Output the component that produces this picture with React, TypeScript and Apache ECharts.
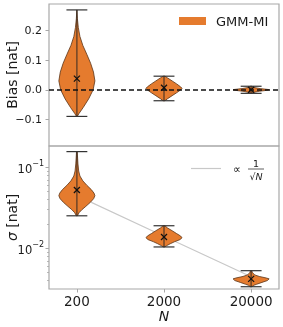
import React, { useEffect, useRef } from 'react';
import * as echarts from 'echarts';

// ---------- data ----------
const categories = ['200', '2000', '20000'];
const positions = [0, 1, 2];

// Bias panel (top): violin profiles (value, relative half-width)
const biasProfileY = [
  [0.27, 0.24, 0.21, 0.18, 0.15, 0.12, 0.09, 0.06, 0.03, 0.0, -0.03, -0.06, -0.08, -0.09],
  [0.046, 0.04, 0.03, 0.02, 0.01, 0.005, 0.0, -0.01, -0.02, -0.03, -0.037],
  [0.012, 0.008, 0.004, 0.001, 0.0, -0.002, -0.005, -0.009, -0.012],
];
const biasProfileW = [
  [0.0, 0.03, 0.08, 0.17, 0.33, 0.55, 0.76, 0.92, 1.0, 0.9, 0.66, 0.35, 0.12, 0.02],
  [0.05, 0.2, 0.45, 0.7, 0.92, 1.0, 0.93, 0.7, 0.45, 0.2, 0.05],
  [0.03, 0.15, 0.5, 0.95, 1.0, 0.85, 0.45, 0.12, 0.03],
];
const biasMin = [-0.09, -0.037, -0.012];
const biasMax = [0.27, 0.046, 0.012];
const biasMean = [0.038, 0.007, 0.0];
const biasTicks = [-0.1, 0.0, 0.1, 0.2];

// Sigma panel (bottom, log scale)
const sigmaProfileY = [
  [0.156, 0.13, 0.11, 0.09, 0.078, 0.068, 0.06, 0.053, 0.048, 0.0446, 0.041, 0.037, 0.033, 0.03, 0.0275, 0.0252],
  [0.019, 0.0178, 0.0165, 0.0152, 0.0142, 0.0135, 0.0128, 0.0121, 0.0114, 0.0108, 0.0104],
  [0.0053, 0.005, 0.0047, 0.0045, 0.0043, 0.0042, 0.004, 0.0038, 0.0036, 0.0035, 0.00336],
];
const sigmaProfileW = [
  [0.02, 0.04, 0.06, 0.1, 0.17, 0.33, 0.55, 0.8, 0.95, 1.0, 0.93, 0.75, 0.5, 0.28, 0.12, 0.03],
  [0.05, 0.2, 0.45, 0.7, 0.92, 1.0, 0.88, 0.6, 0.35, 0.15, 0.04],
  [0.03, 0.08, 0.2, 0.45, 0.85, 1.0, 0.9, 0.6, 0.3, 0.15, 0.04],
];
const sigmaMin = [0.0252, 0.0104, 0.00336];
const sigmaMax = [0.156, 0.019, 0.0053];
const sigmaMean = [0.0525, 0.0138, 0.0042];
const sqrtRef = [0.0447, 0.0141, 0.00447];
const sigmaMajorTicks = [0.01, 0.1];
const sigmaMinorTicks = [0.004, 0.005, 0.006, 0.007, 0.008, 0.009, 0.02, 0.03, 0.04, 0.05, 0.06, 0.07, 0.08, 0.09];

// ---------- styles ----------
const HALF = 0.207;
const CAP = 0.12;
const ORANGE = '#E57B2E';
const FRAME = '#a8a8a8';
const TEXT = '#1a1a1a';
const FONT = 'DejaVu Sans';

const ident = (v: number) => v;
const lg = (v: number) => Math.log10(v);

function makeViolin(
  profY: number[][], profW: number[][], mins: number[], maxs: number[], means: number[], tf: (v: number) => number
) {
  return (params: any, api: any) => {
    const i = params.dataIndex;
    const xc = positions[i];
    const right = profY[i].map((v, k) => api.coord([xc + profW[i][k] * HALF, tf(v)]));
    const left = profY[i].map((v, k) => api.coord([xc - profW[i][k] * HALF, tf(v)])).reverse();
    const top = api.coord([xc, tf(maxs[i])]);
    const bot = api.coord([xc, tf(mins[i])]);
    const capL = api.coord([xc - CAP, tf(maxs[i])]);
    const capR = api.coord([xc + CAP, tf(maxs[i])]);
    const capL2 = api.coord([xc - CAP, tf(mins[i])]);
    const capR2 = api.coord([xc + CAP, tf(mins[i])]);
    const m = api.coord([xc, tf(means[i])]);
    const s = 3;
    return {
      type: 'group',
      children: [
        {
          type: 'polygon',
          shape: { points: right.concat(left) },
          style: { fill: ORANGE, stroke: '#5b3416', lineWidth: 0.8 },
        },
        {
          type: 'line',
          shape: { x1: top[0], y1: top[1], x2: bot[0], y2: bot[1] },
          style: { stroke: '#222', lineWidth: 1.4, opacity: 0.65 },
        },
        {
          type: 'line',
          shape: { x1: capL[0], y1: capL[1], x2: capR[0], y2: capR[1] },
          style: { stroke: '#333', lineWidth: 1.2 },
        },
        {
          type: 'line',
          shape: { x1: capL2[0], y1: capL2[1], x2: capR2[0], y2: capR2[1] },
          style: { stroke: '#333', lineWidth: 1.2 },
        },
        {
          type: 'line',
          shape: { x1: m[0] - s, y1: m[1] - s, x2: m[0] + s, y2: m[1] + s },
          style: { stroke: '#111', lineWidth: 1.2 },
        },
        {
          type: 'line',
          shape: { x1: m[0] - s, y1: m[1] + s, x2: m[0] + s, y2: m[1] - s },
          style: { stroke: '#111', lineWidth: 1.2 },
        },
      ],
    };
  };
}

export default function App() {
  const ref = useRef<HTMLDivElement>(null);
  useEffect(() => {
    if (!ref.current) return;
    const chart = echarts.init(ref.current, undefined, { renderer: 'svg' });
    const xMin = -0.32;
    const xMax = 2.32;
    const gridBase = {
      left: 49, right: 4, show: true, borderColor: FRAME, borderWidth: 1.2,
      backgroundColor: 'transparent', containLabel: false, outerBoundsMode: 'none',
    };
    const option: any = {
      animation: false,
      textStyle: { fontFamily: FONT },
      grid: [
        { ...gridBase, top: 4, height: 142 },
        { ...gridBase, top: 146, height: 143 },
      ],
      xAxis: [
        {
          type: 'value', gridIndex: 0, min: xMin, max: xMax, position: 'bottom',
          axisLine: { show: false, onZero: false }, axisTick: { show: false }, axisLabel: { show: false }, splitLine: { show: false },
        },
        {
          type: 'value', gridIndex: 1, min: xMin, max: xMax, position: 'bottom',
          axisLine: { show: false, onZero: false },
          axisTick: { show: true, customValues: positions, length: 3.5, lineStyle: { color: FRAME, width: 1 } },
          axisLabel: {
            show: true, customValues: positions, margin: 5,
            formatter: (v: number) => categories[Math.round(v)] ?? '',
            fontSize: 13.5, color: TEXT, fontFamily: FONT,
          },
          splitLine: { show: false },
          name: 'N', nameLocation: 'middle', nameGap: 20, nameMoveOverlap: false,
          nameTextStyle: { fontSize: 14, fontStyle: 'italic', color: TEXT, fontFamily: FONT },
        },
      ],
      yAxis: [
        {
          type: 'value', gridIndex: 0, min: -0.19, max: 0.29, position: 'left',
          axisLine: { show: false, onZero: false },
          axisTick: { show: true, customValues: biasTicks, length: 3.5, lineStyle: { color: FRAME, width: 1 } },
          axisLabel: {
            show: true, customValues: biasTicks, margin: 7, fontSize: 11, color: TEXT, fontFamily: FONT,
            formatter: (v: number) => (v < -1e-9 ? '\u2212' + Math.abs(v).toFixed(1) : Math.abs(v).toFixed(1)),
          },
          splitLine: { show: false },
          name: 'Bias [nat]', nameLocation: 'middle', nameGap: 30, nameMoveOverlap: false,
          nameTextStyle: { fontSize: 14, color: TEXT, fontFamily: FONT },
        },
        {
          type: 'value', gridIndex: 1, min: lg(0.00315), max: lg(0.183), position: 'left',
          axisLine: { show: false, onZero: false },
          axisTick: { show: true, customValues: sigmaMajorTicks.map(lg), length: 3.5, lineStyle: { color: FRAME, width: 1 } },
          axisLabel: {
            show: true, customValues: sigmaMajorTicks.map(lg), margin: 5, color: TEXT, fontFamily: FONT,
            formatter: (v: number) => '{b|10}{s|\u2212' + Math.round(-v) + '}',
            rich: {
              b: { fontSize: 11.5, color: TEXT, fontFamily: FONT, verticalAlign: 'bottom', lineHeight: 16 },
              s: { fontSize: 8, color: TEXT, fontFamily: FONT, verticalAlign: 'top', lineHeight: 16 },
            },
          },
          splitLine: { show: false },
          name: '{i|\u03c3} [nat]', nameLocation: 'middle', nameGap: 30, nameMoveOverlap: false,
          nameTextStyle: {
            fontSize: 14, color: TEXT, fontFamily: FONT,
            rich: { i: { fontSize: 14, fontStyle: 'italic', color: TEXT, fontFamily: FONT } },
          },
        },
        {
          type: 'value', gridIndex: 1, min: lg(0.00315), max: lg(0.183), position: 'left', offset: 0,
          axisLine: { show: false, onZero: false },
          axisTick: { show: true, customValues: sigmaMinorTicks.map(lg), length: 2, lineStyle: { color: FRAME, width: 0.8 } },
          axisLabel: { show: false },
          splitLine: { show: false },
        },
      ],
      series: [
        {
          type: 'custom', xAxisIndex: 0, yAxisIndex: 0, z: 2,
          data: positions.map((p, i) => [p, biasMean[i]]),
          encode: { x: 0, y: 1 },
          renderItem: makeViolin(biasProfileY, biasProfileW, biasMin, biasMax, biasMean, ident),
          markLine: {
            silent: true, symbol: ['none', 'none'], label: { show: false },
            lineStyle: { type: [5, 3], color: '#111', width: 1.5 },
            data: [{ yAxis: 0 }],
            z: 5,
          },
        },
        {
          type: 'line', xAxisIndex: 1, yAxisIndex: 1, z: 1,
          data: positions.map((p, i) => [p, lg(sqrtRef[i])]),
          showSymbol: false, symbol: 'none',
          lineStyle: { color: '#c8c8c8', width: 1.2 },
        },
        {
          type: 'custom', xAxisIndex: 1, yAxisIndex: 1, z: 2,
          data: positions.map((p, i) => [p, lg(sigmaMean[i])]),
          encode: { x: 0, y: 1 },
          renderItem: makeViolin(sigmaProfileY, sigmaProfileW, sigmaMin, sigmaMax, sigmaMean, lg),
        },
      ],
      graphic: [
        { type: 'rect', shape: { x: 179, y: 17, width: 27, height: 8 }, style: { fill: ORANGE } },
        {
          type: 'text', x: 216, y: 21,
          style: { text: 'GMM-MI', fontSize: 13, fill: TEXT, fontFamily: FONT, verticalAlign: 'middle', align: 'left' },
        },
        { type: 'line', shape: { x1: 191, y1: 168.5, x2: 221, y2: 168.5 }, style: { stroke: '#c8c8c8', lineWidth: 1.2 } },
        {
          type: 'text', x: 233, y: 169,
          style: { text: '\u221d', fontSize: 11, fill: TEXT, fontFamily: FONT, verticalAlign: 'middle', align: 'left' },
        },
        {
          type: 'text', x: 256, y: 163,
          style: { text: '1', fontSize: 9.5, fill: TEXT, fontFamily: FONT, verticalAlign: 'middle', align: 'center' },
        },
        { type: 'line', shape: { x1: 248, y1: 169, x2: 264, y2: 169 }, style: { stroke: TEXT, lineWidth: 0.7 } },
        {
          type: 'text', x: 256, y: 176.5,
          style: {
            text: '\u221a{n|N}', fontSize: 9.5, fill: TEXT, fontFamily: FONT, verticalAlign: 'middle', align: 'center',
            rich: { n: { fontSize: 9.5, fontStyle: 'italic', fill: TEXT, fontFamily: FONT } },
          },
        },
      ],
    };
    chart.setOption(option);
    return () => chart.dispose();
  }, []);
  return <div ref={ref} style={{ position: 'fixed', left: 0, top: 0, width: 283, height: 327 }} />;
}
